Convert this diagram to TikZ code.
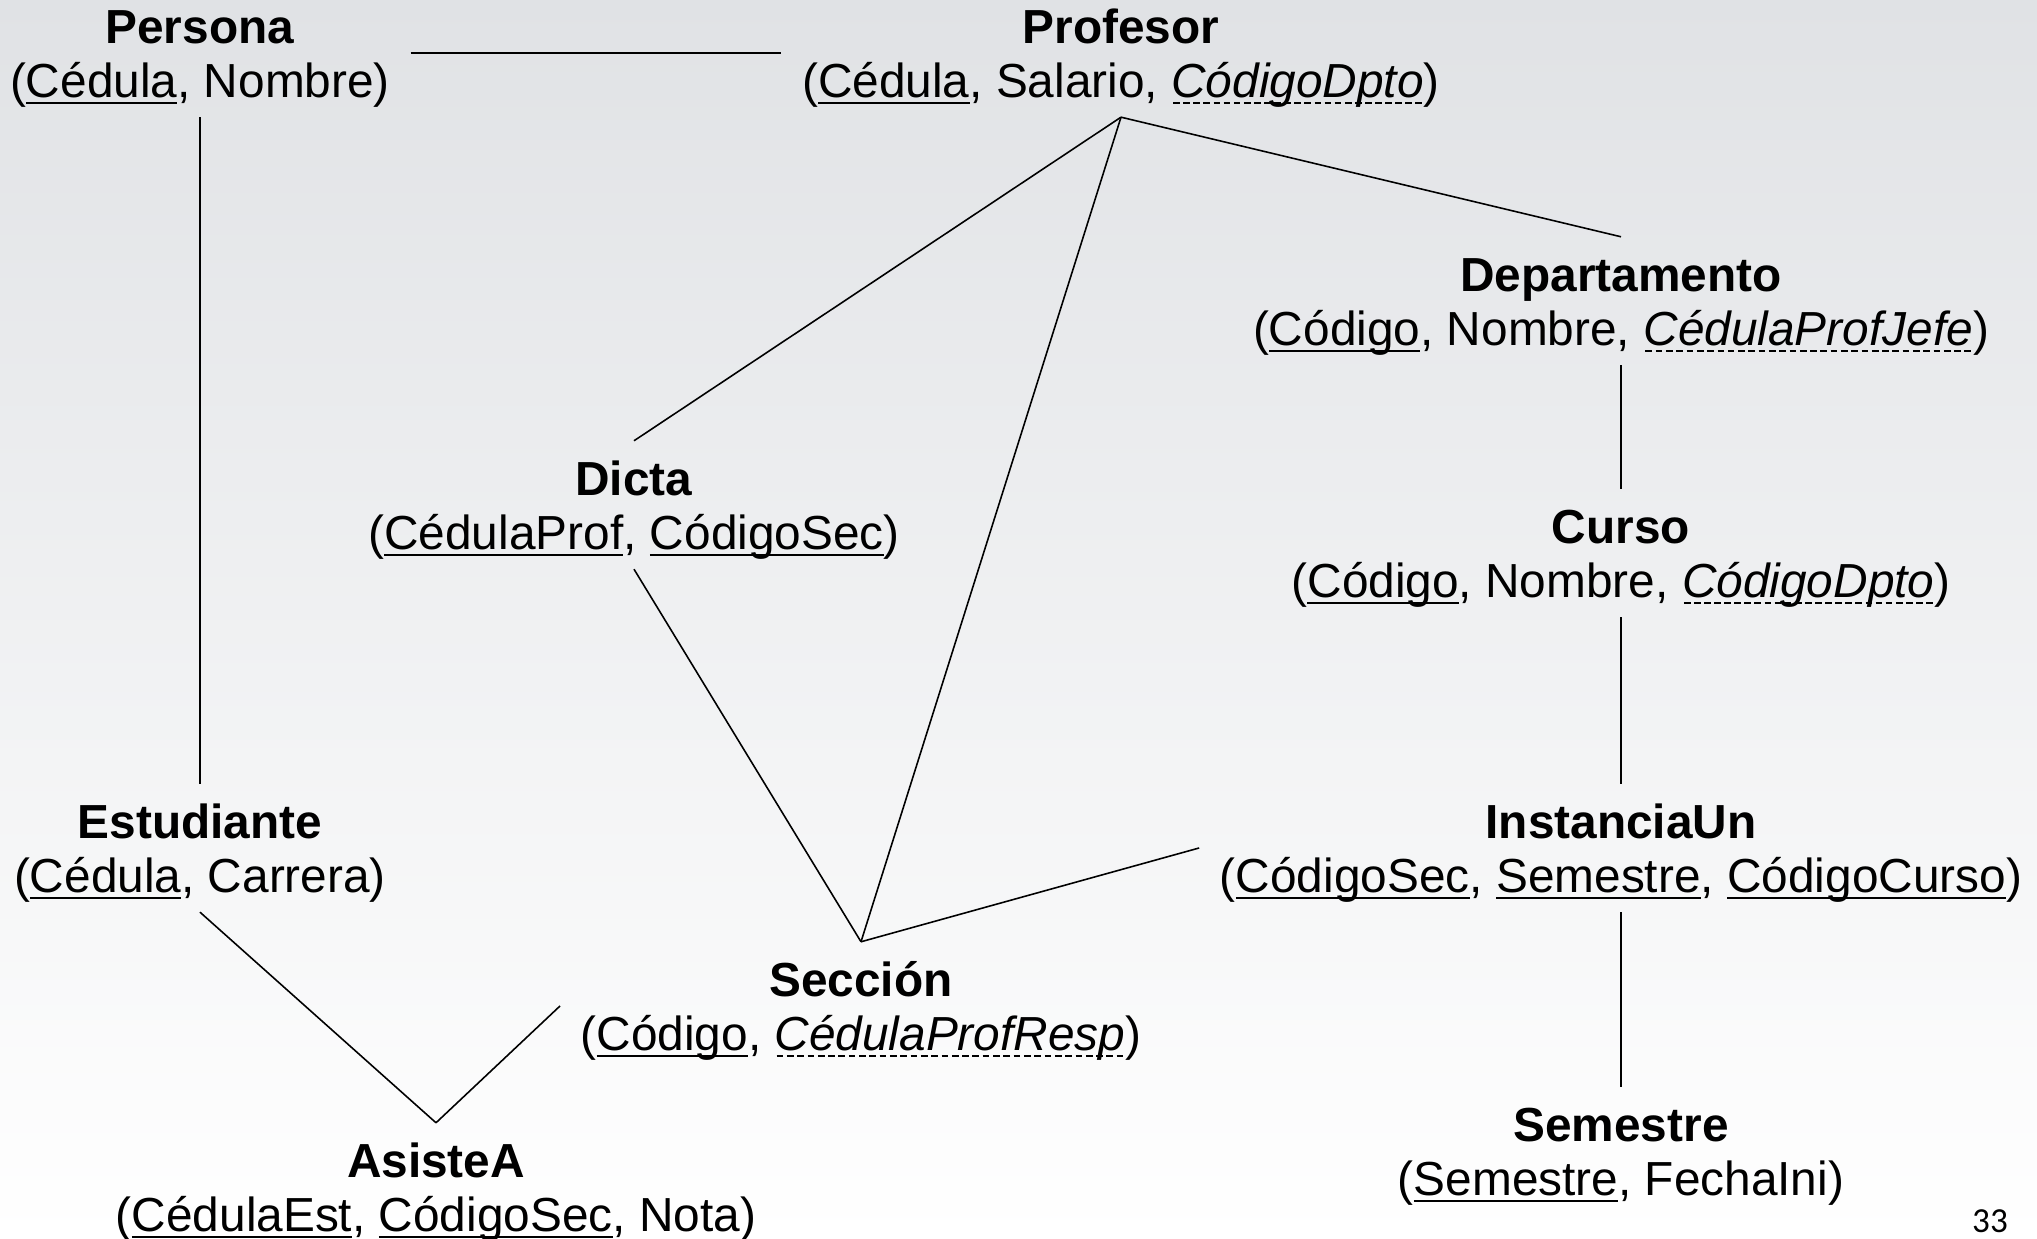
\documentclass[tikz,border=0pt]{standalone}
\usepackage{fontspec}
\setmainfont{Liberation Sans}
\newfontfamily\pagefont{Carlito}
\newcommand\pk[1]{{\setbox0\hbox{#1}\leavevmode
  \rlap{\vrule height -1.2pt depth 1.8pt width \wd0}\box0}}
\newcommand\fk[1]{{\setbox0\hbox{\textit{#1}}\leavevmode
  \rlap{\hbox to \wd0{\xleaders\hbox{\kern.035em\vrule height -1.2pt depth 1.8pt width .14em\kern.035em}\hfil}}\box0}}
\newcommand\ttl[1]{\rule{0pt}{4.5mm}\textbf{#1}}
\begin{document}
\begin{tikzpicture}[x=1cm,y=1cm,
  tbl/.style={align=center, inner xsep=2mm, inner ysep=0pt, minimum height=12.7mm,
    font=\fontsize{13.6}{15.6}\selectfont},
  link/.style={line width=0.45pt}]
\shade[top color={rgb,255:red,224;green,226;blue,229}, bottom color=white]
  (0,0) rectangle (20.37,12.39);
\useasboundingbox (0,0) rectangle (20.37,12.39);
\node[tbl] (persona) at (2.00,11.86) {\ttl{Persona}\\(\pk{Cédula}, Nombre)};
\node[tbl] (profesor) at (11.21,11.86) {\ttl{Profesor}\\(\pk{Cédula}, Salario, \fk{CódigoDpto})};
\node[tbl] (depto) at (16.21,9.38) {\ttl{Departamento}\\(\pk{Código}, Nombre, \fk{CédulaProfJefe})};
\node[tbl] (dicta) at (6.34,7.34) {\ttl{Dicta}\\(\pk{CédulaProf}, \pk{CódigoSec})};
\node[tbl] (curso) at (16.21,6.86) {\ttl{Curso}\\(\pk{Código}, Nombre, \fk{CódigoDpto})};
\node[tbl] (estudiante) at (2.00,3.91) {\ttl{Estudiante}\\(\pk{Cédula}, Carrera)};
\node[tbl] (instancia) at (16.21,3.91) {\ttl{InstanciaUn}\\(\pk{CódigoSec}, \pk{Semestre}, \pk{CódigoCurso})};
\node[tbl] (seccion) at (8.61,2.33) {\ttl{Sección}\\(\pk{Código}, \fk{CédulaProfResp})};
\node[tbl] (asiste) at (4.36,0.52) {\ttl{AsisteA}\\(\pk{CédulaEst}, \pk{CódigoSec}, Nota)};
\node[tbl] (semestre) at (16.21,0.88) {\ttl{Semestre}\\(\pk{Semestre}, FechaIni)};
\node[font=\pagefont\fontsize{10}{12}\selectfont] (pagenum) at (19.90,0.18) {33};
\draw[link] (persona.east) -- (profesor.west);
\draw[link] (persona.south) -- (estudiante.north);
\draw[link] (profesor.south) -- (dicta.north);
\draw[link] (profesor.south) -- (seccion.north);
\draw[link] (profesor.south) -- (depto.north);
\draw[link] (depto.south) -- (curso.north);
\draw[link] (curso.south) -- (instancia.north);
\draw[link] (instancia.south) -- (semestre.north);
\draw[link] (dicta.south) -- (seccion.north);
\draw[link] (instancia.west) -- (seccion.north);
\draw[link] (estudiante.south) -- (asiste.north);
\draw[link] (seccion.west) -- (asiste.north);
\end{tikzpicture}
\end{document}
